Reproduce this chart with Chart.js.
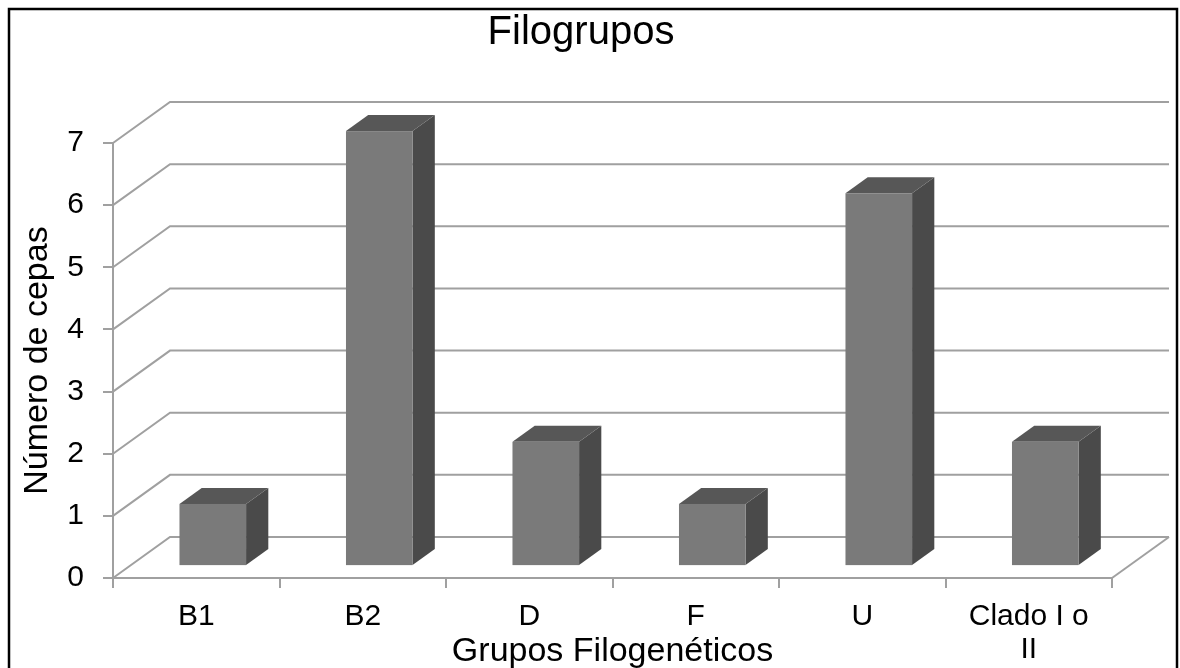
<!DOCTYPE html>
<html>
<head>
<meta charset="utf-8">
<script src="https://cdn.jsdelivr.net/npm/chart.js@4.4.1/dist/chart.umd.min.js"></script>
<style>
  html, body { margin: 0; padding: 0; background: #ffffff; }
  canvas { display: block; }
</style>
</head>
<body>
<canvas id="chart" width="1180" height="668"></canvas>
<script>
// Phylogenetic groups and number of strains per group
const categories = ['B1', 'B2', 'D', 'F', 'U', ['Clado I o', 'II']];
const cepas = [1, 7, 2, 1, 6, 2];
const yMin = 0;
const yMax = 7;
const yStep = 1;

const FONT = "'Liberation Sans', Arial, sans-serif";
const GRID_COLOR = '#a0a0a0';

// Perspective vector from the front plane to the back wall
const DEPTH = { x: 57, y: -41 };
// Fraction of the depth where each box starts and ends
const BAR_FRONT = 0.29;
const BAR_BACK = 0.68;

const FACE_FRONT = '#7a7a7a';
const FACE_TOP = '#575757';
const FACE_SIDE = '#4a4a4a';

const walls3d = {
  id: 'walls3d',
  beforeDatasetsDraw(chart) {
    const { ctx, chartArea: { left, right }, scales: { y } } = chart;
    ctx.save();
    ctx.strokeStyle = GRID_COLOR;
    ctx.lineWidth = 2;
    // side wall diagonal + back wall horizontal for each value tick
    y.ticks.forEach(t => {
      const py = y.getPixelForValue(t.value);
      ctx.beginPath();
      ctx.moveTo(left, py);
      ctx.lineTo(left + DEPTH.x, py + DEPTH.y);
      ctx.lineTo(right + DEPTH.x, py + DEPTH.y);
      ctx.stroke();
    });
    // right edge of the floor
    const p0 = y.getPixelForValue(yMin);
    ctx.beginPath();
    ctx.moveTo(right, p0);
    ctx.lineTo(right + DEPTH.x, p0 + DEPTH.y);
    ctx.stroke();
    ctx.restore();
  },
  afterDatasetsDraw(chart) {
    const { ctx } = chart;
    const meta = chart.getDatasetMeta(0);
    const fx = DEPTH.x * BAR_FRONT, fy = DEPTH.y * BAR_FRONT;
    const dx = DEPTH.x * (BAR_BACK - BAR_FRONT), dy = DEPTH.y * (BAR_BACK - BAR_FRONT);
    ctx.save();
    meta.data.forEach(bar => {
      const { x, y, base, width } = bar.getProps(['x', 'y', 'base', 'width'], true);
      const l = x - width / 2 + fx;
      const r = x + width / 2 + fx;
      const t = y + fy;
      const b = base + fy;
      // right side
      ctx.fillStyle = FACE_SIDE;
      ctx.beginPath();
      ctx.moveTo(r, t);
      ctx.lineTo(r + dx, t + dy);
      ctx.lineTo(r + dx, b + dy);
      ctx.lineTo(r, b);
      ctx.closePath();
      ctx.fill();
      // top
      ctx.fillStyle = FACE_TOP;
      ctx.beginPath();
      ctx.moveTo(l, t);
      ctx.lineTo(l + dx, t + dy);
      ctx.lineTo(r + dx, t + dy);
      ctx.lineTo(r, t);
      ctx.closePath();
      ctx.fill();
      // front
      ctx.fillStyle = FACE_FRONT;
      ctx.fillRect(l, t, r - l, b - t);
    });
    ctx.restore();
  },
  afterDraw(chart) {
    const { ctx } = chart;
    ctx.save();
    ctx.strokeStyle = '#000000';
    ctx.lineWidth = 2.5;
    ctx.strokeRect(9, 9, 1168, 720);
    ctx.restore();
  }
};

new Chart(document.getElementById('chart'), {
  type: 'bar',
  data: {
    labels: categories,
    datasets: [{
      label: 'Número de cepas',
      data: cepas,
      backgroundColor: 'rgba(0,0,0,0)',
      borderWidth: 0,
      barPercentage: 0.4,
      categoryPercentage: 1.0
    }]
  },
  options: {
    responsive: false,
    animation: false,
    layout: { padding: { left: 0, right: 18, top: 0, bottom: 0 } },
    plugins: {
      legend: { display: false },
      tooltip: { enabled: false },
      title: {
        display: true,
        text: 'Filogrupos',
        color: '#000000',
        font: { family: FONT, size: 40, weight: 'normal', lineHeight: 1 },
        padding: { top: 13, bottom: 90 }
      }
    },
    scales: {
      x: {
        type: 'category',
        afterFit(scale) { scale.height = 90; },
        grid: {
          offset: true,
          drawOnChartArea: false,
          drawTicks: true,
          tickLength: 10,
          color: GRID_COLOR,
          lineWidth: 2
        },
        border: { display: true, color: GRID_COLOR, width: 2 },
        ticks: {
          color: '#000000',
          font: { family: FONT, size: 30, lineHeight: 1.1 },
          padding: 12,
          maxRotation: 0,
          autoSkip: false
        },
        title: {
          display: true,
          text: 'Grupos Filogenéticos',
          color: '#000000',
          font: { family: FONT, size: 34, lineHeight: 1 },
          padding: { top: 0, bottom: -1 }
        }
      },
      y: {
        min: yMin,
        max: yMax,
        afterFit(scale) { scale.width = 113; },
        grid: {
          drawOnChartArea: false,
          drawTicks: true,
          tickLength: 10,
          color: GRID_COLOR,
          lineWidth: 2
        },
        border: { display: true, color: GRID_COLOR, width: 2 },
        ticks: {
          stepSize: yStep,
          color: '#000000',
          font: { family: FONT, size: 30 },
          padding: 19
        },
        title: {
          display: true,
          text: 'Número de cepas',
          color: '#000000',
          font: { family: FONT, size: 34, lineHeight: 1 },
          padding: { top: 21, bottom: 0 }
        }
      },
      // empty margin on the right, where the back wall runs past the front plane
      depthMargin: {
        type: 'linear',
        position: 'right',
        display: true,
        afterFit(scale) { scale.width = 50; },
        grid: { display: false, drawTicks: false },
        border: { display: false },
        ticks: { display: false }
      }
    }
  },
  plugins: [walls3d]
});
</script>
</body>
</html>
